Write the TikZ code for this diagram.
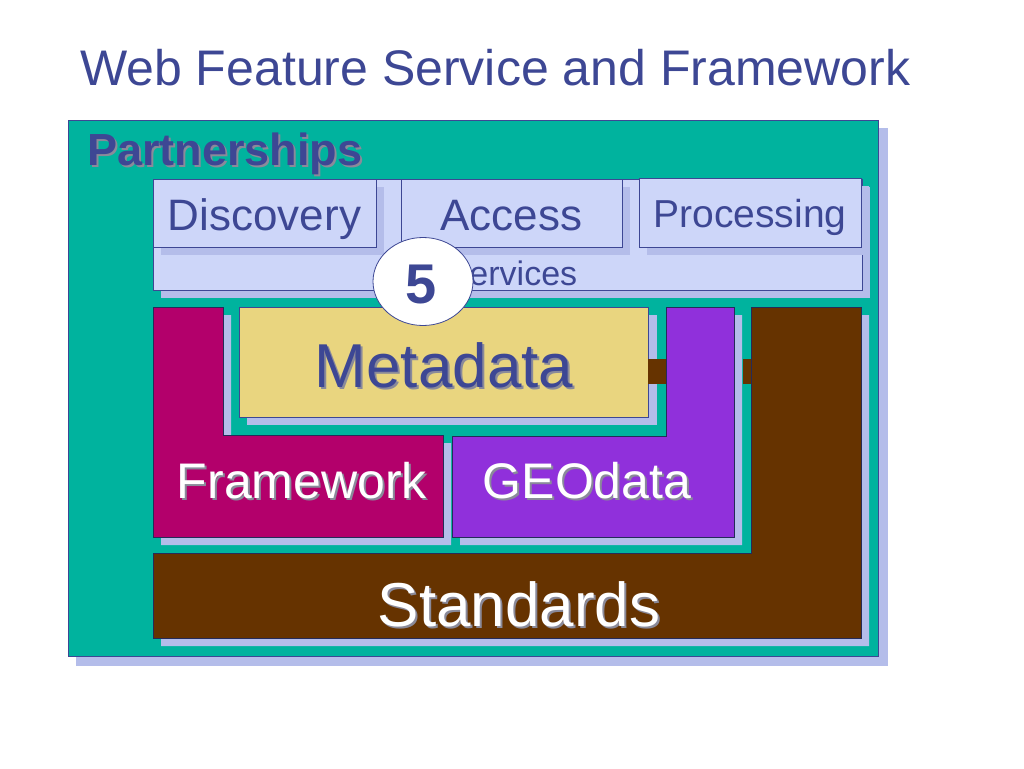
\documentclass[tikz,border=0pt]{standalone}
\usepackage{fontspec}
\usetikzlibrary{shapes.geometric}
\setmainfont{Liberation Sans}
\definecolor{tealbg}{HTML}{00B39E}
\definecolor{shad}{HTML}{B4BDEA}
\definecolor{lbox}{HTML}{CDD6F9}
\definecolor{dkblue}{HTML}{3D4794}
\definecolor{metaY}{HTML}{E9D57F}
\definecolor{frameM}{HTML}{B3006B}
\definecolor{geoP}{HTML}{9030DB}
\definecolor{stdB}{HTML}{663300}
\definecolor{txtsh}{HTML}{8A8A9A}
\tikzset{
  shadowfill/.style={fill=shad, draw=none},
  lightbox/.style={fill=lbox, draw=dkblue, line width=0.8pt},
  colshape/.style={fill=#1, draw=dkblue!60!black, line width=0.6pt},
  lbl/.style={inner sep=0pt, anchor=base, text=dkblue},
  whitelbl/.style={inner sep=0pt, anchor=base, text=white},
  shlbl/.style={inner sep=0pt, anchor=base, text=txtsh},
  fsz/.style={font=\fontsize{#1}{#1}\selectfont},
  bfsz/.style={font=\fontsize{#1}{#1}\selectfont\bfseries}
}
\begin{document}
\begin{tikzpicture}[x=1pt,y=-1pt]
\useasboundingbox[fill=white] (0,0) rectangle (1024,768);
% title
\node[lbl, anchor=base west, fsz=50] (title) at (80,85) {Web Feature Service and Framework};
% outer partnerships panel
\fill[shadowfill] (76,128) rectangle (888,666);
\draw[fill=tealbg, draw=dkblue, line width=0.8pt] (68,120) rectangle (878,656);
\node[shlbl, anchor=base west, bfsz=45] (partsh) at (89,167) {Partnerships};
\node[lbl, anchor=base west, bfsz=45] (part) at (87,165) {Partnerships};
% services
\fill[shadowfill] (161,187) rectangle (870,298);
\draw[lightbox] (153,179) rectangle (862,290);
% discovery
\fill[shadowfill] (161,187) rectangle (384,255);
\draw[lightbox] (153,179) rectangle (376,247);
\node[lbl, fsz=44] (disc) at (264.5,230) {Discovery};
% access
\fill[shadowfill] (409,187) rectangle (630,255);
\draw[lightbox] (401,179) rectangle (622,247);
\node[lbl, fsz=44] (acc) at (511.5,230) {Access};
% processing
\fill[shadowfill] (647,186) rectangle (869,255);
\draw[lightbox] (639,178) rectangle (861,247);
\node[lbl, fsz=39] (proc) at (750,227) {Processing};
\node[lbl, fsz=34] (serv) at (512,285) {Services};
% framework
\fill[shadowfill] (161,315) -- (231,315) -- (231,443) -- (451,443) -- (451,545) -- (161,545) -- cycle;
\draw[colshape=frameM] (153,307) -- (223,307) -- (223,435) -- (443,435) -- (443,537) -- (153,537) -- cycle;
% geodata
\fill[shadowfill] (674,315) -- (742,315) -- (742,545) -- (460,545) -- (460,444) -- (674,444) -- cycle;
\draw[colshape=geoP] (666,307) -- (734,307) -- (734,537) -- (452,537) -- (452,436) -- (666,436) -- cycle;
% metadata
\fill[shadowfill] (247,315) rectangle (657,425);
\draw[fill=metaY, draw=dkblue, line width=0.8pt] (239,307) rectangle (648,417);
% standards
\fill[shadowfill] (759,315) -- (869,315) -- (869,646) -- (161,646) -- (161,561) -- (759,561) -- cycle;
\draw[colshape=stdB] (751,307) -- (861,307) -- (861,638) -- (153,638) -- (153,553) -- (751,553) -- cycle;
% brown links
\fill[stdB] (648,359) rectangle (666,384);
\fill[stdB] (743,359) rectangle (751,384);
% texts
\node[shlbl, fsz=62] (metash) at (446,389) {Metadata};
\node[lbl, fsz=62] (meta) at (444,387) {Metadata};
\node[shlbl, fsz=50] (fwsh) at (304,500) {Framework};
\node[whitelbl, fsz=50] (fw) at (302,498) {Framework};
\node[shlbl, fsz=50] (geosh) at (589,500) {GEOdata};
\node[whitelbl, fsz=50] (geo) at (587,498) {GEOdata};
\node[shlbl, fsz=62] (stdsh) at (521,628) {Standards};
\node[whitelbl, fsz=62] (std) at (519,626) {Standards};
% circle 5
\node[ellipse, fill=white, draw=dkblue, line width=0.8pt, minimum width=100pt, minimum height=88pt, inner sep=0pt] (five) at (423,281.5) {};
\node[lbl, bfsz=56] (fivetxt) at (421.5,303) {5};
\end{tikzpicture}
\end{document}
